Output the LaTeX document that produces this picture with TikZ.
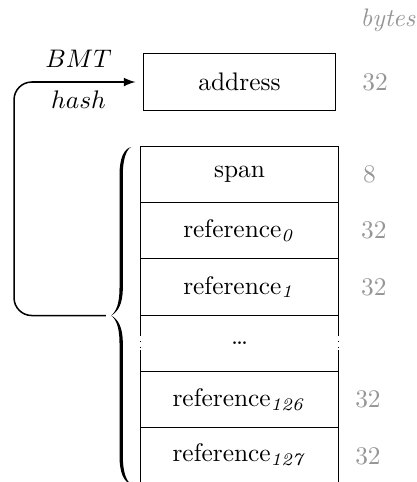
\documentclass[tikz,border=0pt]{standalone}
\usepackage{xcolor}
\usepackage{tikz}
\usetikzlibrary{arrows, arrows.meta, positioning}
\definecolor{SizeGray}{RGB}{150,150,150}
\tikzset{
  >=latex,  % frecce stile LaTeX
  % Campi del chunk
  field/.style={draw,rectangle,minimum width=2.75cm,minimum height=0.78cm,inner sep=2pt,outer sep=0},
  field addr/.style={field,minimum width=2.67cm},
  % Dimensioni in byte
  bytesize/.style={text=SizeGray,inner sep=0},
  % Connessione hash
  connect arrow/.style={->,semithick,rounded corners=7pt,shorten >=3pt,shorten <=2pt}
}
\begin{document}
\begin{tikzpicture}
    \useasboundingbox (0,0) rectangle (5.758,-6.671);
    \node[bytesize,font=\itshape] (bytesHead) at (5.37,-0.28) {bytes};
    % address
    \node[field addr] (address) at (3.315,-1.135) {address};
    \node[bytesize, right=0.36cm of address] (addressSize) {32};
    % chunk
    \node[field] (span) at (3.315,-2.412) {span};
    \node[field, below=0pt of span] (ref0) {reference$_{\mathit{0}}$};
    \node[field, below=0pt of ref0] (ref1) {reference$_{\mathit{1}}$};
    \node[field, draw=none, below=0pt of ref1] (dots) {\dots};
    \node[field, below=0pt of dots] (ref126) {reference$_{\mathit{126}}$};
    \node[field, below=0pt of ref126] (ref127) {reference$_{\mathit{127}}$};
    \foreach \side in {west, east} {
      \draw (dots.north \side) -- ([yshift=-0.27cm]dots.north \side);
      \draw[dotted] ([yshift=-0.27cm]dots.north \side) -- ([yshift=0.3cm]dots.south \side);
      \draw ([yshift=0.3cm]dots.south \side) -- (dots.south \side);
    }
    \node[bytesize, right=0.33cm of span] (spanSize) {8};
    \node[bytesize, right=0.3cm of ref0] (ref0Size) {32};
    \node[bytesize, right=0.3cm of ref1] (ref1Size) {32};
    \node[bytesize, right=0.22cm of ref126] (ref126Size) {32};
    \node[bytesize, right=0.22cm of ref127] (ref127Size) {32};
    % brace (in pixel units)
    \begin{scope}[x=0.3938pt,y=-0.3938pt]
      \fill (131,147) .. controls (124,149) and (119.5,158) .. (119.5,175) -- (119.5,288)
        .. controls (119.5,304) and (116,312) .. (111,315.5)
        .. controls (118,312) and (122.8,304) .. (122.8,288) -- (122.8,175)
        .. controls (122.8,160) and (126,150) .. (131,147) -- cycle;
      \fill (131,484) .. controls (124,482) and (119.5,473) .. (119.5,456) -- (119.5,343)
        .. controls (119.5,327) and (116,319) .. (111,315.5)
        .. controls (118,319) and (122.8,327) .. (122.8,343) -- (122.8,456)
        .. controls (122.8,471) and (126,481) .. (131,484) -- cycle;
    \end{scope}
    \coordinate (braceTip) at (1.536,-4.367);
    \coordinate (hashLeft) at (0.194,-4.367);
    \draw[connect arrow] (braceTip) -- (hashLeft) |- (address.west)
      node[pos=0.75,above=2pt]{$BMT$} node[pos=0.75,below]{$hash$};
\end{tikzpicture}
\end{document}
